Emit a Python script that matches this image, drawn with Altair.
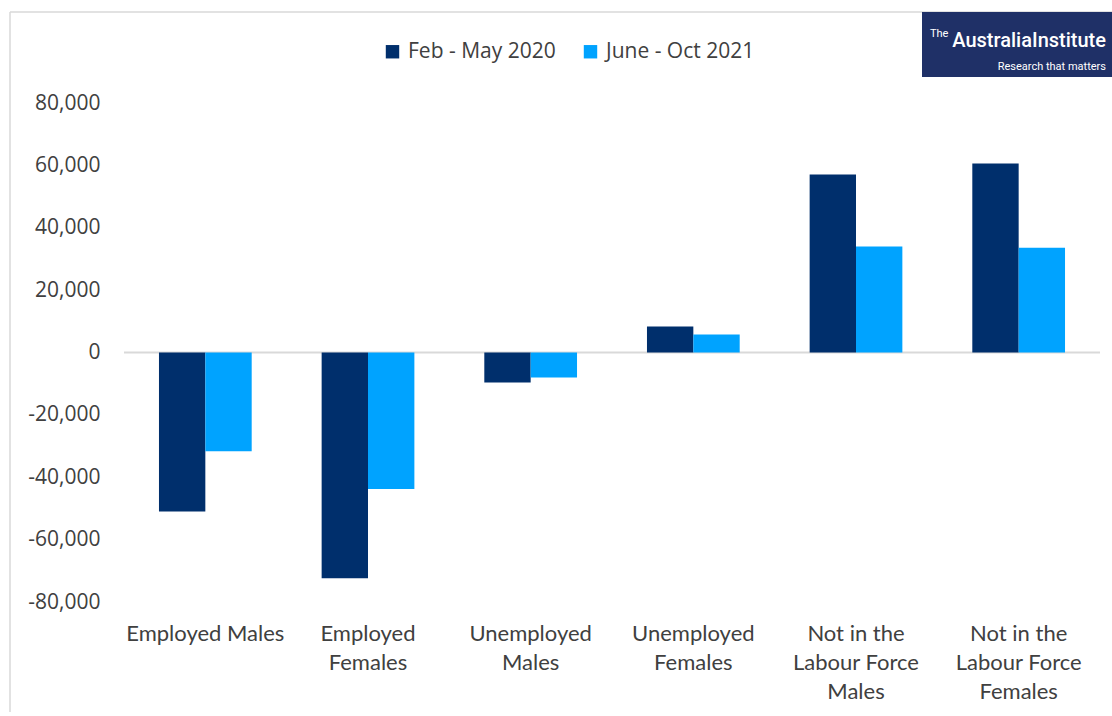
import altair as alt
import pandas as pd

categories = ["Employed Males", "Employed Females", "Unemployed Males",
              "Unemployed Females", "Not in the Labour Force Males",
              "Not in the Labour Force Females"]
label_lines = [["Employed Males"], ["Employed", "Females"], ["Unemployed", "Males"],
               ["Unemployed", "Females"], ["Not in the", "Labour Force", "Males"],
               ["Not in the", "Labour Force", "Females"]]
periods = ["Feb - May 2020", "June - Oct 2021"]
feb_may_2020 = [-51000, -72400, -9600, 8300, 57100, 60600]
june_oct_2021 = [-31700, -43800, -8000, 5800, 34000, 33600]
y_ticks = [-80000, -60000, -40000, -20000, 0, 20000, 40000, 60000, 80000]
colors = ["#002F6C", "#00A3FF"]

rows = []
for c, a, b in zip(categories, feb_may_2020, june_oct_2021):
    rows.append({"category": c, "period": periods[0], "value": a})
    rows.append({"category": c, "period": periods[1], "value": b})
df = pd.DataFrame(rows)

# label expression for multi-line x labels
expr = "null"
for c, lines in zip(reversed(categories), reversed(label_lines)):
    arr = "[" + ",".join("'" + s + "'" for s in lines) + "]"
    expr = f"datum.label == '{c}' ? {arr} : ({expr})"

W, H = 976, 499

bars = alt.Chart(df).mark_bar(stroke=None).encode(
    x=alt.X("category:N", sort=categories, title=None,
            scale=alt.Scale(paddingInner=0.43, paddingOuter=0.215),
            axis=alt.Axis(orient="bottom", labelExpr=expr, labelAngle=0, domain=False,
                          ticks=False, labelPadding=31, labelFont="Lato",
                          labelFontSize=22, labelLineHeight=29, labelColor="#404040",
                          labelBaseline="middle", labelLimit=300)),
    xOffset=alt.XOffset("period:N", sort=periods),
    y=alt.Y("value:Q", title=None,
            scale=alt.Scale(domain=[-80000, 80000], nice=False),
            axis=alt.Axis(values=y_ticks, grid=False, domain=False, ticks=False,
                          labelExpr="(datum.value < 0 ? '-' : '') + format(abs(datum.value), ',')",
                          labelFont="Open Sans", labelFontSize=21, labelColor="#404040",
                          labelPadding=24)),
    color=alt.Color("period:N", sort=periods,
                    scale=alt.Scale(domain=periods, range=colors),
                    legend=alt.Legend(title=None, orient="none", direction="horizontal",
                                      legendX=258, legendY=-62, symbolType="square",
                                      symbolSize=180, symbolStrokeWidth=0,
                                      labelFont="Open Sans", labelFontSize=21,
                                      labelColor="#404040", columnPadding=24,
                                      labelOffset=5)),
)

one = alt.Data(values=[{}])

zero = alt.Chart(one).mark_rule(color="#D9D9D9", strokeWidth=2).encode(y=alt.datum(0))

border_left = alt.Chart(one).mark_rule(color="#D9D9D9", strokeWidth=1.5).encode(
    x=alt.value(10 - 124), y=alt.value(12 - 103), y2=alt.value(H + 200))
border_top = alt.Chart(one).mark_rule(color="#D9D9D9", strokeWidth=1.5).encode(
    x=alt.value(10 - 124), x2=alt.value(1112 - 124), y=alt.value(12 - 103))

logo_box = alt.Chart(one).mark_rect(color="#1F3067").encode(
    x=alt.value(922 - 124), x2=alt.value(1120 - 124),
    y=alt.value(12 - 103), y2=alt.value(77 - 103))
logo_the = alt.Chart(one).mark_text(text="The", color="white", fontSize=11,
                                    font="Roboto", align="left",
                                    baseline="alphabetic").encode(
    x=alt.value(930 - 124), y=alt.value(37 - 103))
logo_name = alt.Chart(one).mark_text(text="AustraliaInstitute", color="white", fontSize=20,
                                     font="Roboto", fontWeight=500, align="right",
                                     baseline="alphabetic").encode(
    x=alt.value(1106 - 124), y=alt.value(47 - 103))
logo_tag = alt.Chart(one).mark_text(text="Research that matters", color="white", fontSize=11,
                                    font="Roboto", align="right",
                                    baseline="alphabetic").encode(
    x=alt.value(1106 - 124), y=alt.value(70 - 103))

chart = alt.layer(zero, bars, border_left, border_top, logo_box, logo_the, logo_name,
                  logo_tag).properties(
    width=W, height=H,
    autosize=alt.AutoSizeParams(type="none"),
    padding={"left": 124, "top": 103, "right": 12, "bottom": 110},
    background="white",
).configure_view(stroke=None)

chart.save("out.html", embed_options={"renderer": "svg", "actions": False})
